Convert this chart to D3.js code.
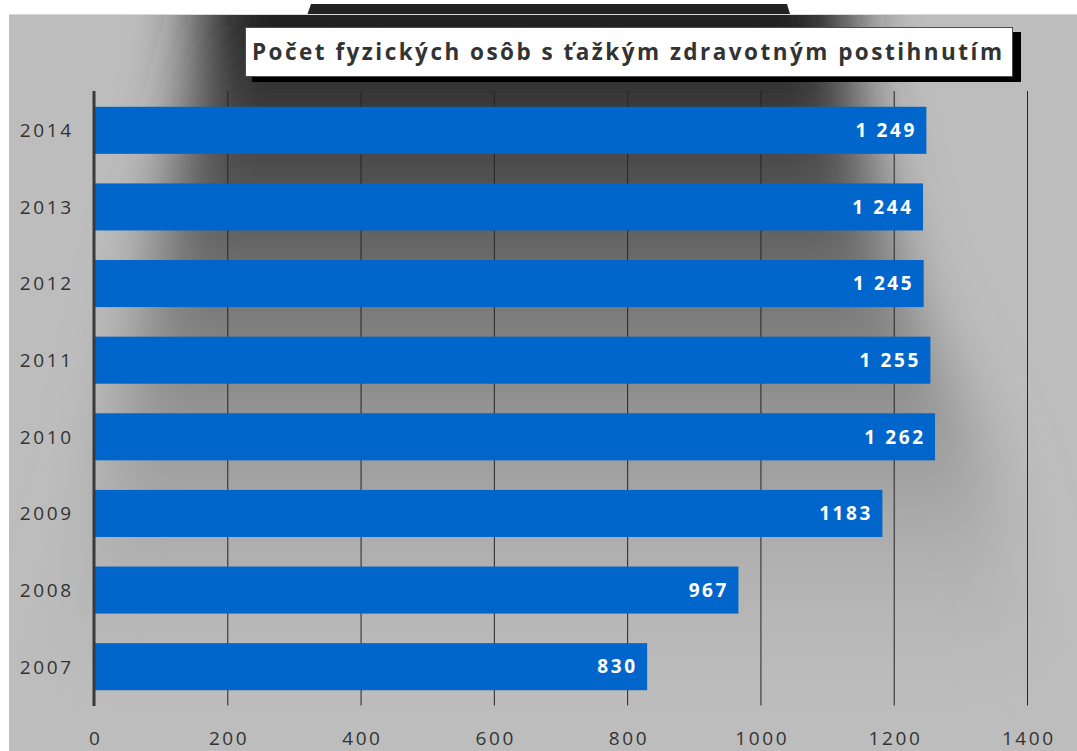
<!DOCTYPE html>
<html>
<head>
<meta charset="utf-8">
<script src="https://cdn.jsdelivr.net/npm/d3@7"></script>
<style>
  html, body { margin: 0; padding: 0; background: #ffffff; }
  svg { display: block; }
  text { font-family: "Open Sans", "Noto Sans", sans-serif; }
</style>
</head>
<body>
<script>
// ---- data ----
const years = ["2007", "2008", "2009", "2010", "2011", "2012", "2013", "2014"];
const values = [830, 967, 1183, 1262, 1255, 1245, 1244, 1249];
const valueLabels = ["830", "967", "1183", "1 262", "1 255", "1 245", "1 244", "1 249"];
const xTicks = [0, 200, 400, 600, 800, 1000, 1200, 1400];
const chartTitle = "Počet fyzických osôb s ťažkým zdravotným postihnutím";

const W = 1077, H = 751;
const svg = d3.select("body").append("svg").attr("width", W).attr("height", H);
const defs = svg.append("defs");

// background clip
defs.append("clipPath").attr("id", "bgclip")
  .append("rect").attr("x", 9).attr("y", 14).attr("width", W - 9).attr("height", H - 14);

const grad = defs.append("linearGradient").attr("id", "darkgrad")
  .attr("gradientUnits", "userSpaceOnUse").attr("x1", 0).attr("x2", 0).attr("y1", 14).attr("y2", 700);
[[14, "#1f1f1f"], [93, "#353535"], [167, "#4d4d4d"], [245, "#666666"], [322, "#7f7f7f"],
 [398, "#909090"], [474, "#a2a2a2"], [553, "#b0b0b0"], [629, "#b8b8b8"], [700, "#bdbdbd"]]
  .forEach(([y, c]) => grad.append("stop").attr("offset", (y - 14) / 686).attr("stop-color", c));

defs.append("filter").attr("id", "blur").attr("x", "-30%").attr("y", "-30%").attr("width", "160%").attr("height", "160%")
  .append("feGaussianBlur").attr("stdDeviation", 32);

// top dark strip above chart area
svg.append("path")
  .attr("d", "M307.5,14 L311,4 L787,4 L790,14 Z")
  .attr("fill", "#222222");

const bg = svg.append("g").attr("clip-path", "url(#bgclip)");
bg.append("rect").attr("x", 9).attr("y", 14).attr("width", W - 9).attr("height", H - 14).attr("fill", "#bdbdbd");
const shape = [[205, -80], [195, 93], [175, 167], [158, 245], [142, 322], [124, 398], [106, 474], [86, 553], [60, 640], [30, 780],
  [1045, 780], [1030, 640], [1010, 553], [992, 474], [960, 398], [918, 322], [890, 245], [870, 167], [855, 93], [840, -80]];
bg.append("path")
  .attr("d", d3.line()(shape) + "Z")
  .attr("fill", "url(#darkgrad)")
  .attr("filter", "url(#blur)");
bg.append("line").attr("x1", 9).attr("x2", W).attr("y1", 14.5).attr("y2", 14.5)
  .attr("stroke", "#d9d9d9").attr("stroke-width", 1);

// ---- scales ----
const x = d3.scaleLinear().domain([0, 1400]).range([94, 1027]);
const y = d3.scaleBand().domain(years.slice().reverse()).range([92, 705]).paddingInner(0.386).paddingOuter(0.193);
const plotTop = 91, plotBottom = 705.5;

// gridlines
const grid = svg.append("g").attr("transform", `translate(0,${plotBottom})`)
  .call(d3.axisBottom(x).tickValues(xTicks.filter(d => d > 0)).tickSize(-(plotBottom - plotTop)).tickFormat(""));
grid.select(".domain").remove();
grid.selectAll(".tick line").attr("stroke", "#262626").attr("stroke-width", 1);

// bars
const data = years.map((yr, i) => ({ year: yr, value: values[i], label: valueLabels[i] }));
svg.append("g").selectAll("rect").data(data).join("rect")
  .attr("x", x(0))
  .attr("y", d => y(d.year))
  .attr("width", d => x(d.value) - x(0))
  .attr("height", y.bandwidth())
  .attr("fill", "#0066cc");

// value labels
const LS = 2.6;
svg.append("g").selectAll("text").data(data).join("text")
  .attr("x", d => x(d.value) - 12 + LS)
  .attr("y", d => y(d.year) + y.bandwidth() / 2 + 6.8)
  .attr("text-anchor", "end")
  .attr("font-size", 19)
  .attr("font-weight", "bold")
  .attr("letter-spacing", LS)
  .attr("fill", "#ffffff")
  .text(d => d.label);

// y axis line
svg.append("line").attr("x1", x(0)).attr("x2", x(0)).attr("y1", plotTop).attr("y2", 706)
  .attr("stroke", "#3a3a3a").attr("stroke-width", 3);

// y axis labels
const yAxis = svg.append("g").attr("transform", `translate(${x(0)},0)`)
  .call(d3.axisLeft(y).tickSize(0).tickPadding(23 - LS));
yAxis.select(".domain").remove();
yAxis.selectAll("text")
  .attr("font-family", "\"Open Sans\", sans-serif")
  .attr("font-size", 19)
  .attr("letter-spacing", LS)
  .attr("fill", "#333333")
  .attr("dy", 6.8);

// x axis labels
const xAxis = svg.append("g").attr("transform", `translate(0,${plotBottom})`)
  .call(d3.axisBottom(x).tickValues(xTicks).tickSize(0).tickPadding(0).tickFormat(d3.format("d")));
xAxis.select(".domain").remove();
xAxis.selectAll("text")
  .attr("font-family", "\"Open Sans\", sans-serif")
  .attr("font-size", 19)
  .attr("letter-spacing", LS)
  .attr("fill", "#333333")
  .attr("y", 745 - plotBottom)
  .attr("dy", 0)
  .attr("dx", LS / 2);

// title box
svg.append("rect").attr("x", 252).attr("y", 32).attr("width", 769).attr("height", 50).attr("fill", "#000000");
svg.append("rect").attr("x", 245.5).attr("y", 27.5).attr("width", 767).attr("height", 49)
  .attr("fill", "#ffffff").attr("stroke", "#4d4d4d").attr("stroke-width", 1);
svg.append("text")
  .attr("x", 252).attr("y", 60)
  .attr("font-size", 22.5)
  .attr("font-weight", "bold")
  .attr("fill", "#333333")
  .attr("textLength", 750)
  .attr("lengthAdjust", "spacing")
  .text(chartTitle);
</script>
</body>
</html>
